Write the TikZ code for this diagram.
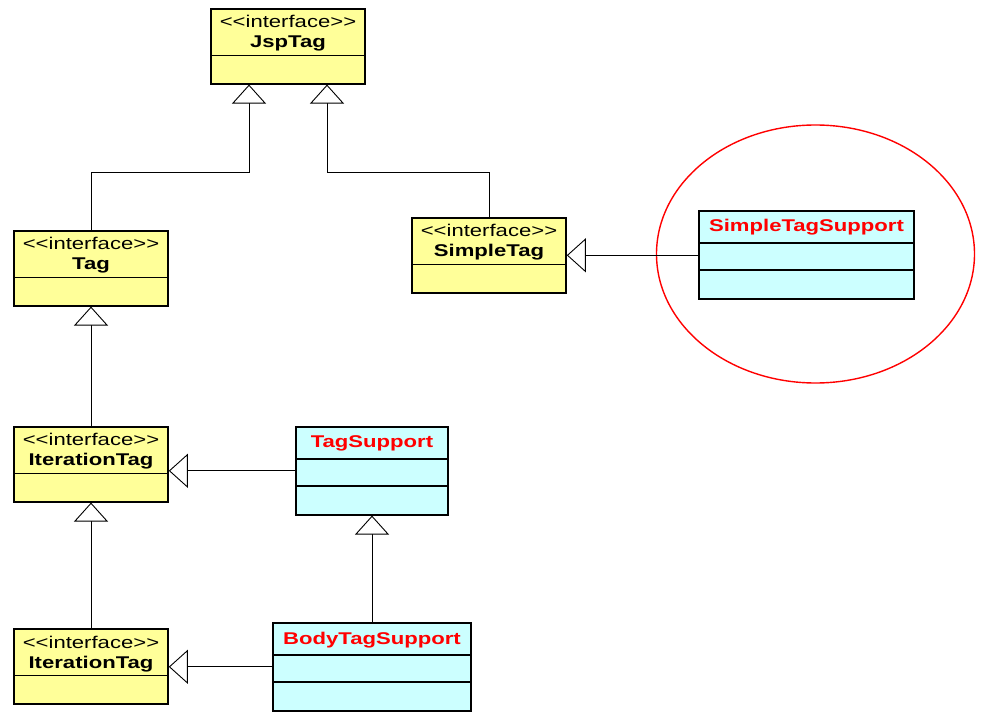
\documentclass[tikz,border=0pt]{standalone}
\usepackage{fontspec}
\setmainfont{Liberation Sans}[FakeStretch=1.3]
\usetikzlibrary{arrows.meta,shapes.geometric}
\definecolor{ifill}{HTML}{FFFF99}
\definecolor{cfill}{HTML}{CCFFFF}
\definecolor{cred}{HTML}{FF0000}
\tikzset{
  ibox/.style={draw=black, fill=ifill, line width=1.6pt, inner sep=0pt, rectangle},
  cbox/.style={draw=black, fill=cfill, line width=1.6pt, inner sep=0pt, rectangle},
  divline/.style={draw=black, line width=1.6pt},
  stereo/.style={anchor=base, inner sep=0pt, font=\fontsize{17}{19}\selectfont},
  iname/.style={anchor=base, inner sep=0pt, font=\fontsize{17}{19}\selectfont\bfseries},
  cname/.style={anchor=base, inner sep=0pt, text=cred, font=\fontsize{17}{19}\selectfont\bfseries},
  gen/.style={draw=black, line width=0.9pt, -{Triangle[open, length=19pt, width=34pt, fill=white]}},
}
\newcommand\ifacebox[4]{% name, center x, top y, label
  \node[ibox, minimum width=154pt, minimum height=75pt, anchor=north] (#1) at (#2,#3) {};
  \draw[divline] ([yshift=-47.5pt]#1.north west) -- ([yshift=-47.5pt]#1.north east);
  \node[stereo] (#1-st) at ([yshift=-20pt]#1.north) {<\kern0pt<interface>\kern0pt>};
  \node[iname] (#1-nm) at ([yshift=-40pt]#1.north) {#4};
}
\newcommand\clsbox[5]{% name, center x, top y, width, label
  \node[cbox, minimum width=#4pt, minimum height=88pt, anchor=north] (#1) at (#2,#3) {};
  \draw[divline] ([yshift=-33pt]#1.north west) -- ([yshift=-33pt]#1.north east);
  \draw[divline] ([yshift=-60pt]#1.north west) -- ([yshift=-60pt]#1.north east);
  \node[cname] (#1-nm) at ([yshift=-22pt]#1.north) {#5};
}
\begin{document}
\begin{tikzpicture}[x=1pt,y=-1pt]
\useasboundingbox (0,0) rectangle (989,719);
% ellipse highlight
\node[ellipse, draw=cred, line width=1.4pt, minimum width=318pt, minimum height=258pt, inner sep=0pt] (hl) at (815.5,254) {};
% interfaces
\ifacebox{jsp}{288}{8}{JspTag}
\ifacebox{tag}{91}{230}{Tag}
\ifacebox{st}{489}{217}{SimpleTag}
\ifacebox{ita}{91}{426}{IterationTag}
\ifacebox{itb}{91}{628}{IterationTag}
% classes
\clsbox{sts}{806.5}{210}{215}{SimpleTagSupport}
\clsbox{ts}{372}{426}{152}{TagSupport}
\clsbox{bts}{372}{622}{198}{BodyTagSupport}
% connectors
\coordinate (jl) at ([xshift=-39pt]jsp.south);
\coordinate (jr) at ([xshift=39pt]jsp.south);
\draw[gen] (tag.north) -- ++(0,-58) -| (jl);
\draw[gen] (st.north) -- ++(0,-45) -| (jr);
\draw[gen] (sts.west |- st.east) -- (st.east);
\draw[gen] (ita.north) -- (tag.south);
\draw[gen] (ts.west) -- (ts.west -| ita.east);
\draw[gen] (itb.north) -- (ita.south);
\draw[gen] (bts.west) -- (bts.west -| itb.east);
\draw[gen] (bts.north) -- (ts.south);
\end{tikzpicture}
\end{document}
